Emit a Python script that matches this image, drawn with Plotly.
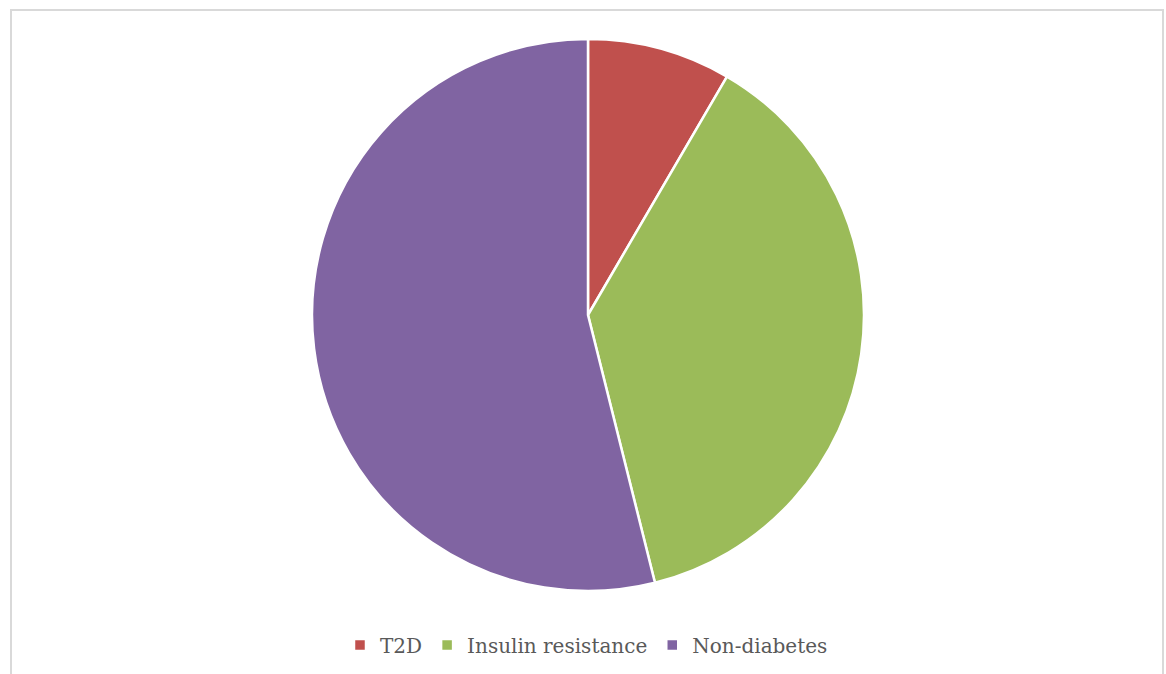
import plotly.graph_objects as go

categories = ["T2D", "Insulin resistance", "Non-diabetes"]
values = [8.4, 37.7, 53.9]
colors = ["#C0504D", "#9BBB59", "#8064A2"]

W, H = 1166, 674
cx, cy, r = 588, 315, 276

fig = go.Figure(go.Pie(
    labels=categories,
    values=values,
    sort=False,
    direction="clockwise",
    rotation=0,
    textinfo="none",
    hoverinfo="label+percent",
    marker=dict(colors=colors, line=dict(color="white", width=2.5)),
    domain=dict(x=[(cx - r) / W, (cx + r) / W], y=[1 - (cy + r) / H, 1 - (cy - r) / H]),
))

fig.update_layout(
    width=W, height=H,
    margin=dict(l=0, r=0, t=0, b=0),
    paper_bgcolor="white",
    plot_bgcolor="white",
    showlegend=True,
    legend=dict(
        orientation="h",
        x=0.503, xanchor="center",
        y=1 - 645 / H, yanchor="middle",
        font=dict(family="DejaVu Serif", size=20, color="#595959"),
        itemwidth=30,
        traceorder="normal",
        bgcolor="rgba(0,0,0,0)",
    ),
    shapes=[dict(
        type="rect", xref="paper", yref="paper",
        x0=11 / W, x1=1163 / W, y0=-0.05, y1=1 - 10 / H,
        line=dict(color="#D9D9D9", width=2),
        fillcolor="rgba(0,0,0,0)",
        layer="below",
    )],
)

fig.write_html("out.html")
